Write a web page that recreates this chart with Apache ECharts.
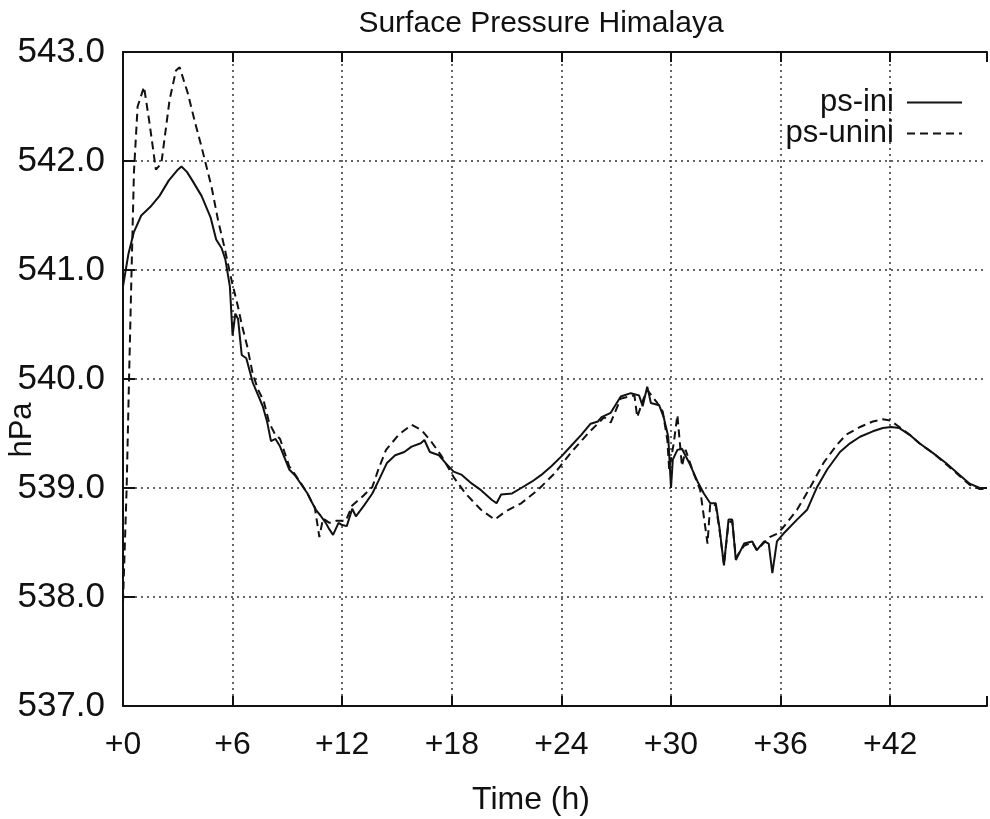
<!doctype html>
<html>
<head>
<meta charset="UTF-8">
<title>Surface Pressure Himalaya</title>
<script src="https://cdn.jsdelivr.net/npm/echarts@6/dist/echarts.min.js"></script>
<style>
  html, body { margin: 0; padding: 0; background: #fff; }
  #main { width: 990px; height: 819px; }
</style>
</head>
<body>
<div id="main"></div>
<script>
// time (h) and pressure (hPa)
var tIni = [0, 0.3, 0.6, 1.0, 1.5, 2.0, 2.5, 3.0, 3.2, 3.5, 3.8, 4.3, 4.8, 5.1, 5.4, 5.6, 5.85, 6.0, 6.15, 6.3,
  6.5, 6.75, 7.1, 7.4, 7.65, 7.9, 8.1, 8.35, 8.6, 9.1, 9.4, 9.65, 10.1, 10.3, 10.56, 10.8, 11.1, 11.3, 11.5, 11.8,
  12.0, 12.25, 12.55, 12.75, 13.2, 13.65, 14.0, 14.45, 14.9, 15.4, 15.8, 16.3, 16.5, 16.8, 17.3, 17.65, 18.1, 18.55, 19.1, 19.6,
  20.2, 20.45, 20.7, 21.3, 21.8, 22.4, 22.9, 23.45, 24.0, 24.55, 25.1, 25.6, 26.0, 26.2, 26.7, 27.25, 27.8, 28.25, 28.45, 28.7,
  28.9, 29.35, 29.6, 29.85, 30.0, 30.1, 30.35, 30.6, 31.0, 31.45, 31.8, 32.15, 32.45, 32.65, 32.9, 33.15, 33.35, 33.55, 34.0, 34.45,
  34.7, 35.1, 35.35, 35.55, 35.8, 36.15, 36.9, 37.45, 38.0, 38.55, 39.25, 39.8, 40.35, 41.05, 41.6, 42.05, 42.5, 43.05, 43.6, 44.35,
  45.05, 45.8, 46.35, 46.9, 47.3];
var psIni = [540.85, 541.15, 541.35, 541.5, 541.58, 541.68, 541.82, 541.92, 541.95, 541.9, 541.82, 541.68, 541.48, 541.28, 541.2, 541.1, 540.85, 540.4, 540.6, 540.55,
  540.22, 540.19, 539.97, 539.85, 539.75, 539.6, 539.43, 539.45, 539.38, 539.17, 539.12, 539.06, 538.95, 538.88, 538.8, 538.75, 538.68, 538.62, 538.57, 538.68,
  538.66, 538.65, 538.81, 538.74, 538.84, 538.95, 539.07, 539.23, 539.3, 539.33, 539.38, 539.41, 539.44, 539.33, 539.3, 539.23, 539.15, 539.12, 539.04, 538.98,
  538.89, 538.86, 538.94, 538.95, 539.0, 539.06, 539.12, 539.2, 539.29, 539.39, 539.49, 539.59, 539.61, 539.65, 539.69, 539.84, 539.87, 539.85, 539.75, 539.93,
  539.78, 539.76, 539.65, 539.47, 539.0, 539.26, 539.35, 539.36, 539.23, 539.06, 538.95, 538.86, 538.86, 538.64, 538.29, 538.71, 538.71, 538.34, 538.49, 538.51,
  538.43, 538.51, 538.49, 538.22, 538.51, 538.58, 538.71, 538.8, 539.01, 539.17, 539.33, 539.41, 539.47, 539.52, 539.55, 539.56, 539.55, 539.49, 539.41, 539.32,
  539.23, 539.12, 539.04, 539.0, 539.0];

var tUnini = [0, 0.2, 0.33, 0.47, 0.6, 0.8, 1.15, 1.45, 1.8, 2.1, 2.55, 2.9, 3.1, 3.55, 3.95, 4.3, 4.85, 5.2, 5.55, 5.95,
  6.3, 6.5, 6.8, 7.1, 7.4, 7.7, 8.0, 8.3, 8.6, 9.1, 9.6, 10.1, 10.5, 10.75, 10.95, 11.3, 11.7, 12.2, 12.55, 13.1,
  13.65, 14.0, 14.4, 15.1, 15.8, 16.35, 16.9, 17.45, 18.1, 18.75, 19.6, 20.35, 20.9, 21.8, 22.7, 23.6, 24.55, 25.45, 26.35, 26.7,
  27.25, 28.0, 28.15, 28.5, 28.7, 29.25, 29.55, 29.8, 29.9, 30.15, 30.35, 30.6, 30.8, 31.25, 31.6, 32.0, 32.15, 32.45, 32.65, 32.9,
  33.15, 33.35, 33.55, 34.0, 34.45, 34.7, 35.1, 35.4, 35.8, 36.15, 36.9, 37.6, 38.35, 39.05, 39.6, 40.35, 41.05, 41.6, 42.0, 42.5,
  43.05, 43.6, 44.35, 45.05, 45.8, 46.35, 46.9, 47.3];
var psUnini = [537.95, 539.0, 540.0, 541.0, 541.9, 542.5, 542.68, 542.35, 541.92, 541.98, 542.56, 542.83, 542.86, 542.62, 542.35, 542.13, 541.76, 541.46, 541.21, 540.9,
  540.66, 540.5, 540.3, 540.05, 539.9, 539.8, 539.6, 539.5, 539.45, 539.2, 539.08, 538.95, 538.82, 538.55, 538.72, 538.68, 538.7, 538.7, 538.84, 538.92,
  539.01, 539.18, 539.35, 539.49, 539.58, 539.53, 539.42, 539.29, 539.1, 538.95, 538.8, 538.71, 538.78, 538.86, 538.98, 539.13, 539.33, 539.5, 539.65, 539.6,
  539.82, 539.85, 539.65, 539.82, 539.9, 539.78, 539.7, 539.44, 539.17, 539.41, 539.67, 539.2, 539.35, 539.13, 538.98, 538.49, 538.86, 538.84, 538.62, 538.3,
  538.68, 538.7, 538.36, 538.47, 538.5, 538.43, 538.5, 538.55, 538.58, 538.64, 538.8, 539.0, 539.23, 539.39, 539.49, 539.56, 539.61, 539.63, 539.62, 539.56,
  539.49, 539.41, 539.32, 539.22, 539.11, 539.03, 538.99, 538.99];

var yTicks = [537, 538, 539, 540, 541, 542, 543];
var xStep = 6;
var xEnd = 47.3;   // the picture is cut off just before +48

function pairs(t, v) {
  var out = [];
  for (var i = 0; i < t.length; i++) out.push([t[i], v[i]]);
  return out;
}

var font = 'Liberation Sans, Arial, sans-serif';
var myChart = echarts.init(document.getElementById('main'), null, { renderer: 'canvas' });

var gridDots = { color: '#333', width: 1.5, type: [2, 4] };

var option = {
  backgroundColor: '#fff',
  animation: false,
  textStyle: { fontFamily: font, color: '#111' },
  grid: { left: 123, right: 0, top: 52, bottom: 113 },
  graphic: [
    { type: 'text', x: 541, y: 9,
      style: { text: 'Surface Pressure Himalaya', font: '30px ' + font, fill: '#111', align: 'center', verticalAlign: 'top' } },
    { type: 'text', x: 7, y: 430, rotation: Math.PI / 2,
      style: { text: 'hPa', font: '31px ' + font, fill: '#111', align: 'center', verticalAlign: 'top' } },
    { type: 'text', x: 531, y: 784,
      style: { text: 'Time (h)', font: '32px ' + font, fill: '#111', align: 'center', verticalAlign: 'top' } }
  ],
  legend: {
    orient: 'vertical',
    right: 22,
    top: 82,
    align: 'right',
    itemWidth: 55,
    itemHeight: 14,
    itemGap: 0,
    itemStyle: { opacity: 0 },
    textStyle: { fontSize: 31, fontFamily: font, color: '#111', lineHeight: 26, padding: [0, 8, 0, 0] },
    data: ['ps-ini', 'ps-unini']
  },
  xAxis: [{
    type: 'value',
    min: 0, max: xEnd, interval: xStep,
    axisLine: { show: true, lineStyle: { color: '#111', width: 2 } },
    axisTick: { show: true, inside: true, length: 10, lineStyle: { color: '#111', width: 2 } },
    axisLabel: { fontSize: 32, margin: 23, color: '#111', fontFamily: font,
      formatter: function (v) { return v % xStep === 0 ? '+' + v : ''; } },
    splitLine: { show: true, showMaxLine: false, lineStyle: gridDots }
  }, {
    type: 'value', position: 'top',
    min: 0, max: xEnd, interval: xStep,
    axisLine: { show: true, lineStyle: { color: '#111', width: 2 } },
    axisTick: { show: true, inside: true, length: 10, lineStyle: { color: '#111', width: 2 } },
    axisLabel: { show: false },
    splitLine: { show: false }
  }],
  yAxis: {
    type: 'value',
    min: yTicks[0], max: yTicks[yTicks.length - 1], interval: 1,
    axisLine: { show: true, lineStyle: { color: '#111', width: 2 } },
    axisTick: { show: true, inside: true, length: 12, lineStyle: { color: '#111', width: 2 } },
    axisLabel: { fontSize: 35, margin: 18, color: '#111', fontFamily: font,
      formatter: function (v) { return v.toFixed(1); } },
    splitLine: { show: true, lineStyle: gridDots }
  },
  series: [{
    name: 'ps-ini',
    type: 'line',
    symbol: 'none',
    data: pairs(tIni, psIni),
    lineStyle: { color: '#111', width: 2 },
    itemStyle: { color: '#111' }
  }, {
    name: 'ps-unini',
    type: 'line',
    symbol: 'none',
    data: pairs(tUnini, psUnini),
    lineStyle: { color: '#111', width: 2, type: [8, 5] },
    itemStyle: { color: '#111' }
  }]
};
myChart.setOption(option);
</script>
</body>
</html>
